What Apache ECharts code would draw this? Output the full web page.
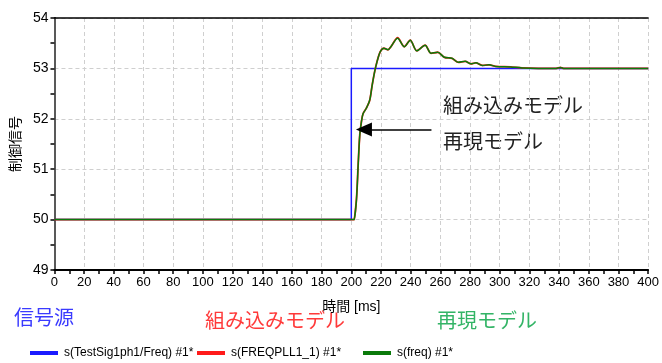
<!DOCTYPE html>
<html>
<head>
<meta charset="utf-8">
<script src="https://cdn.jsdelivr.net/npm/echarts@6/dist/echarts.min.js"></script>
<style>
  html, body { margin: 0; padding: 0; background: #fff; }
  #chart { width: 662px; height: 363px; }
</style>
</head>
<body>
<div id="chart"></div>
<script>
// Step source signal (ms, value)
const sourceTime = [0, 200, 200, 400];
const sourceValues = [50, 50, 53, 53];

// Frequency estimate response (ms)
const respTime = [0, 202, 202.3, 203.5, 204.6, 205.7, 206.8, 207.9, 210.1, 212.4, 213.9, 215.7, 217.3,
  219.5, 222, 224.7, 226.9, 231.2, 235.7, 239.7, 244.1, 249.7, 253.7, 258.2, 262.7, 267.8, 272.2,
  276.7, 280.5, 283.9, 288.3, 292.8, 297.3, 307.3, 315, 338, 340.8, 343, 400];
// Embedded model output
const embeddedValues = [50, 50, 50.01, 50.42, 51.08, 51.68, 51.94, 52.1, 52.21, 52.37, 52.64, 52.93, 53.13,
  53.33, 53.40, 53.37, 53.44, 53.61, 53.43, 53.56, 53.35, 53.46, 53.30, 53.32, 53.22, 53.20, 53.12,
  53.14, 53.09, 53.11, 53.06, 53.07, 53.04, 53.03, 53.01, 53.0, 53.02, 53.0, 53.0];
// Reproduced model output
const reproducedValues = [50, 50, 50.01, 50.41, 51.07, 51.68, 51.94, 52.1, 52.21, 52.37, 52.64, 52.93, 53.13,
  53.33, 53.40, 53.37, 53.44, 53.60, 53.43, 53.56, 53.35, 53.46, 53.30, 53.32, 53.22, 53.20, 53.12,
  53.14, 53.09, 53.11, 53.06, 53.07, 53.04, 53.03, 53.01, 53.0, 53.02, 53.0, 53.0];

const seriesNames = ['s(TestSig1ph1/Freq) #1*', 's(FREQPLL1_1) #1*', 's(freq) #1*'];
const seriesColors = ['#1a1aff', '#ff1a1a', '#0a7a0a'];
const xTicks = { min: 0, max: 400, interval: 20 };
const yTicks = { min: 49, max: 54, interval: 1 };

const pair = (t, v) => t.map((x, i) => [x, v[i]]);

const chart = echarts.init(document.getElementById('chart'));
const tickFont = { fontFamily: 'Liberation Sans, Arial, sans-serif', color: '#000' };

chart.setOption({
  animation: false,
  grid: { left: 53, right: 12, top: 18, bottom: 93 },
  xAxis: [{
    type: 'value', min: xTicks.min, max: xTicks.max, interval: xTicks.interval,
    name: '時間 [ms]', nameLocation: 'middle', nameGap: 30,
    nameTextStyle: { fontSize: 14, color: '#000', fontFamily: 'Liberation Sans, Noto Sans CJK JP, sans-serif' },
    axisLine: { onZero: false, lineStyle: { color: '#000', width: 2 } },
    axisTick: { show: true, length: 4, inside: false, lineStyle: { color: '#000', width: 1.5 } },
    minorTick: { show: true, splitNumber: 2, length: 4, lineStyle: { color: '#000', width: 1.5 } },
    axisLabel: Object.assign({ fontSize: 13, margin: 6 }, tickFont),
    splitLine: { show: true, lineStyle: { color: '#cfcfcf', type: [4, 3], width: 1 } }
  }, {
    type: 'value', position: 'top', min: xTicks.min, max: xTicks.max,
    axisLine: { show: true, lineStyle: { color: '#000', width: 1.5 } },
    axisTick: { show: false }, axisLabel: { show: false }, splitLine: { show: false }
  }],
  yAxis: [{
    type: 'value', min: yTicks.min, max: yTicks.max, interval: yTicks.interval,
    name: '制御信号', nameLocation: 'middle', nameGap: 29, nameRotate: 90,
    nameTextStyle: { fontSize: 14, color: '#000', fontFamily: 'Noto Sans CJK JP, sans-serif' },
    axisLine: { show: true, onZero: false, lineStyle: { color: '#000', width: 2 } },
    axisTick: { show: true, length: 4, lineStyle: { color: '#000', width: 1.5 } },
    minorTick: { show: true, splitNumber: 2, length: 4, lineStyle: { color: '#000', width: 1.5 } },
    axisLabel: Object.assign({ fontSize: 14, margin: 6 }, tickFont),
    splitLine: { show: true, lineStyle: { color: '#cfcfcf', type: [4, 3], width: 1 } }
  }, {
    type: 'value', position: 'right', min: yTicks.min, max: yTicks.max,
    axisLine: { show: true, lineStyle: { color: '#777', width: 1.5 } },
    axisTick: { show: false }, axisLabel: { show: false }, splitLine: { show: false }
  }],
  legend: seriesNames.map((n, i) => ({
    data: [n], left: [30, 197, 363][i], top: 347, padding: 0,
    icon: 'rect', itemWidth: 28, itemHeight: 4, itemGap: 6,
    textStyle: { fontSize: 12, color: '#000', fontFamily: 'Liberation Sans, Arial, sans-serif', padding: [0, 0, 0, 1] }
  })),
  series: [{
    name: seriesNames[0], type: 'line', data: pair(sourceTime, sourceValues),
    showSymbol: false, lineStyle: { color: seriesColors[0], width: 1.5 }, itemStyle: { color: seriesColors[0] }
  }, {
    name: seriesNames[1], type: 'line', data: pair(respTime, embeddedValues), smooth: 0.3,
    showSymbol: false, lineStyle: { color: seriesColors[1], width: 1.8 }, itemStyle: { color: seriesColors[1] },
    markLine: {
      silent: true, symbol: ['none', 'triangle'], symbolSize: [14, 16],
      lineStyle: { color: '#000', width: 1.5, type: 'solid' }, label: { show: false },
      data: [[{ coord: [254, 51.79] }, { coord: [208.5, 51.79] }]]
    }
  }, {
    name: seriesNames[2], type: 'line', data: pair(respTime, reproducedValues), smooth: 0.3,
    showSymbol: false, lineStyle: { color: seriesColors[2], width: 1.5 }, itemStyle: { color: seriesColors[2] }
  }],
  graphic: [
    { type: 'text', left: 443, top: 95, style: { text: '組み込みモデル', fontSize: 20, fill: '#222', fontFamily: 'Noto Sans CJK JP' } },
    { type: 'text', left: 443, top: 131, style: { text: '再現モデル', fontSize: 20, fill: '#222', fontFamily: 'Noto Sans CJK JP' } },
    { type: 'text', left: 14, top: 307, style: { text: '信号源', fontSize: 20, fill: '#3a3aff', fontFamily: 'Noto Sans CJK JP' } },
    { type: 'text', left: 205, top: 310, style: { text: '組み込みモデル', fontSize: 20, fill: '#ff3a3a', fontFamily: 'Noto Sans CJK JP' } },
    { type: 'text', left: 437, top: 310, style: { text: '再現モデル', fontSize: 20, fill: '#33b466', fontFamily: 'Noto Sans CJK JP' } }
  ]
});
</script>
</body>
</html>
